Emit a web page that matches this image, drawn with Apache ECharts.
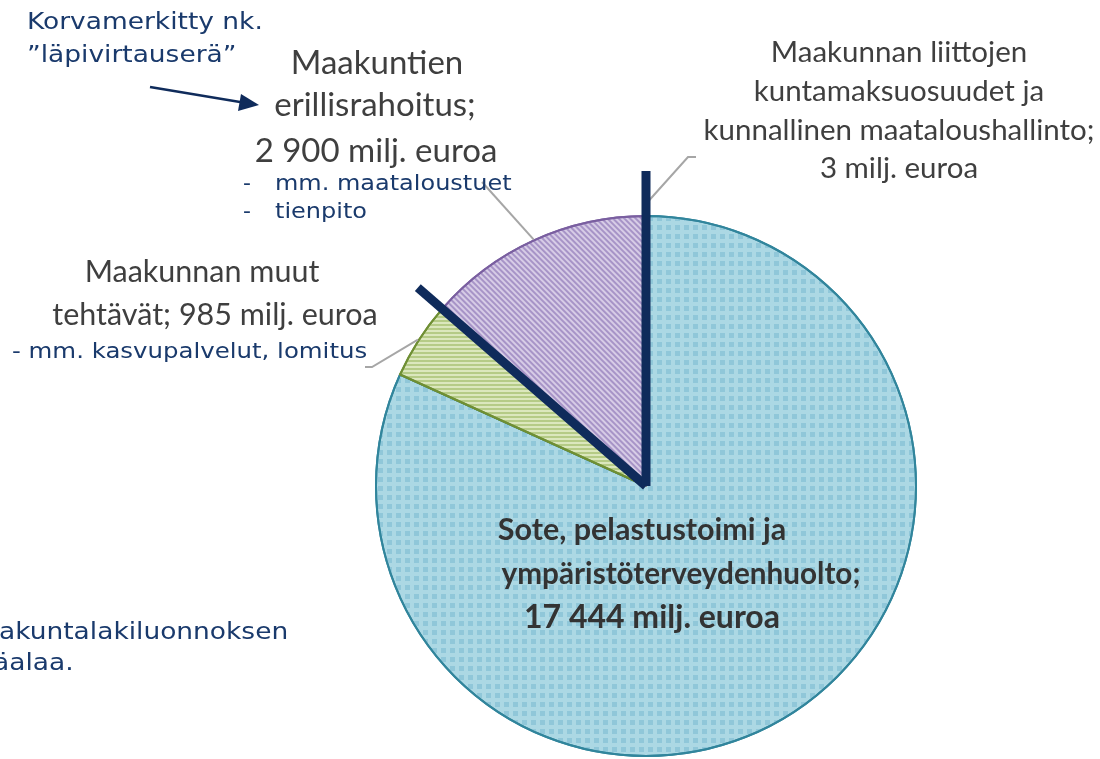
<!DOCTYPE html>
<html><head><meta charset="utf-8">
<script src="https://cdn.jsdelivr.net/npm/echarts@6/dist/echarts.min.js"></script>
<style>html,body{margin:0;padding:0;background:#fff}#c{width:1100px;height:759px}</style>
</head><body><div id="c"></div>
<script>
// ---- data ----
const categories = [
  'Sote, pelastustoimi ja ympäristöterveydenhuolto',
  'Maakunnan muut tehtävät',
  'Maakuntien erillisrahoitus',
  'Maakunnan liittojen kuntamaksuosuudet ja kunnallinen maataloushallinto'
];
const values = [17444, 985, 2900, 3];
const sliceLabels = [
  ['Sote, pelastustoimi ja', 'ympäristöterveydenhuolto;', '17 444 milj. euroa'],
  ['Maakunnan muut', 'tehtävät; 985 milj. euroa'],
  ['Maakuntien', 'erillisrahoitus;', '2 900 milj. euroa'],
  ['Maakunnan liittojen', 'kuntamaksuosuudet ja', 'kunnallinen maataloushallinto;', '3 milj. euroa']
];
const notesErillis = ['mm. maataloustuet', 'tienpito'];
const notesMuut = ['- mm. kasvupalvelut, lomitus'];
const noteEarmarked = ['Korvamerkitty nk.', '”läpivirtauserä”'];
const noteBottom = ['akuntalakiluonnoksen', 'äalaa.'];

// ---- styling ----
const fills   = ['#acd8e4', '#dbe7bd', '#d7cce6', '#c9c9c9'];
const decals  = ['rgba(110,180,205,0.45)', 'rgba(150,180,90,0.55)', 'rgba(135,110,178,0.6)', 'rgba(0,0,0,0)'];
const borders = ['#31859c', '#6f8f34', '#7a5fa0', '#888888'];
const navy = '#0f2b5b';
const noteColor = '#1a3a6c';
const grey = '#3f3f3f';
const cx = 646, cy = 486, R = 270;

const chart = echarts.init(document.getElementById('c'));

// slice geometry (compass degrees, clockwise from top)
const total = values.reduce((a, b) => a + b, 0);
const bounds = []; let acc = 0;
values.forEach(v => { bounds.push([acc / total * 360, (acc + v) / total * 360]); acc += v; });
function pt(deg, r) { const a = deg * Math.PI / 180; return [cx + r * Math.sin(a), cy - r * Math.cos(a)]; }
function mid(i) { return (bounds[i][0] + bounds[i][1]) / 2; }

const data = values.map((v, i) => ({
  name: categories[i], value: v,
  itemStyle: {
    color: fills[i], borderColor: borders[i], borderWidth: 2,
    decal: i === 0
      ? { symbol: 'rect', symbolSize: 1, color: decals[0], dashArrayX: [5, 4], dashArrayY: [5, 4], rotation: 0 }
      : i === 1
      ? { symbol: 'rect', symbolSize: 1, color: decals[1], dashArrayX: [1, 0], dashArrayY: [2, 2], rotation: 0 }
      : i === 2
      ? { symbol: 'rect', symbolSize: 1, color: decals[2], dashArrayX: [1, 0], dashArrayY: [2, 2], rotation: Math.PI / 4 }
      : { symbol: 'none' }
  }
}));

const g = [];
function text(str, x, y, font, fill, align, sx) {
  g.push({ type: 'text', x: x, y: y, z: 10, scaleX: sx || 1,
    style: { text: str, font: font, fill: fill, align: align || 'center', verticalAlign: 'middle' } });
}
function poly(points, stroke, w, z) {
  g.push({ type: 'polyline', z: z || 5, shape: { points: points }, style: { stroke: stroke, lineWidth: w, fill: null } });
}

// leader lines
poly([pt(mid(3), R + 12), [688, 157], [696, 157]], '#a6a6a6', 2);
poly([pt(mid(2), R + 1), [482, 182]], '#a6a6a6', 2);
poly([pt(mid(1), R + 1), [372, 367], [365, 367]], '#a6a6a6', 2);

// thick navy lines marking the separate-funding slice
poly([[cx, cy], pt(bounds[2][0], R * 1.12)], navy, 9, 8);
poly([[cx, cy], pt(0, R * 1.167)], navy, 9, 8);

// slice labels (grey)
const fE = '33px Lato';
text(sliceLabels[2][0], 377, 63, fE, grey);
text(sliceLabels[2][1], 375, 105, fE, grey);
text(sliceLabels[2][2], 376, 151, fE, grey);
const fR = '29.5px Lato';
[52, 91, 130, 168].forEach((y, k) => text(sliceLabels[3][k], 899, y, fR, grey));
const fM = '30.5px Lato';
text(sliceLabels[1][0], 202, 272, fM, grey);
text(sliceLabels[1][1], 215, 315, fM, grey);
text(sliceLabels[0][0], 642, 530, 'bold 30.5px Lato', '#333333');
text(sliceLabels[0][1], 681, 574, 'bold 29.7px Lato', '#333333');
text(sliceLabels[0][2], 652, 618, 'bold 32px Lato', '#333333');

// navy notes
const fN = '22px "DejaVu Sans"';
text('-', 243, 184, fN, noteColor, 'left');
text(notesErillis[0], 275, 184, fN, noteColor, 'left', 1.09);
text('-', 243, 212, fN, noteColor, 'left');
text(notesErillis[1], 275, 212, fN, noteColor, 'left', 1.09);
text(notesMuut[0], 12, 352, fN, noteColor, 'left', 1.11);
const fK = '23px "DejaVu Sans"';
text(noteEarmarked[0], 27, 23, fK, noteColor, 'left', 1.15);
text(noteEarmarked[1], 27, 56, fK, noteColor, 'left', 1.15);
text(noteBottom[0], -1, 633, fK, noteColor, 'left', 1.15);
text(noteBottom[1], -7, 664, fK, noteColor, 'left', 1.15);

// arrow
poly([[150, 87], [246, 103]], navy, 2.5, 9);
g.push({ type: 'polygon', z: 9, shape: { points: [[259, 105], [241, 94], [238, 111]] }, style: { fill: navy } });

chart.setOption({
  animation: false,
  backgroundColor: '#ffffff',
  series: [{
    type: 'pie',
    center: [cx, cy], radius: R,
    startAngle: 90, clockwise: true,
    avoidLabelOverlap: false,
    label: { show: false }, labelLine: { show: false },
    emphasis: { disabled: true },
    data: data
  }],
  graphic: g
});
</script></body></html>
